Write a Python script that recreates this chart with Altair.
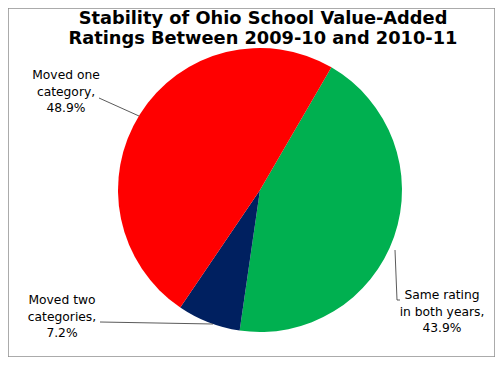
import altair as alt
import pandas as pd

# Data
categories = ["Same rating in both years", "Moved two categories", "Moved one category"]
values = [43.9, 7.2, 48.9]
colors = ["#00B050", "#002060", "#FF0000"]
label_texts = ["Same rating\nin both years,\n43.9%", "Moved two\ncategories,\n7.2%", "Moved one\ncategory,\n48.9%"]
title_lines = ["Stability of Ohio School Value-Added", "Ratings Between 2009-10 and 2010-11"]

W, H = 487, 349
CX, CY, R = 252, 182, 142
START = 0.527  # radians, clockwise from 12 o'clock

df = pd.DataFrame({"category": categories, "value": values, "order": list(range(len(categories)))})

pie = alt.Chart(df).mark_arc(radius=R).encode(
    theta=alt.Theta("value:Q", stack=True,
                    scale=alt.Scale(domain=[0, 100], range=[START, START + 6.283185307])),
    color=alt.Color("category:N", scale=alt.Scale(domain=categories, range=colors), legend=None),
    order=alt.Order("order:Q"),
    x=alt.value(CX),
    y=alt.value(CY),
)

# Labels (annotation placement)
lab_pos = [(434, 281), (54, 286), (58, 61)]
layers = [pie]
for (lx, ly), t in zip(lab_pos, label_texts):
    layers.append(
        alt.Chart(pd.DataFrame({"t": [t]})).mark_text(
            font="DejaVu Sans", fontSize=12.3, lineBreak="\n", lineHeight=16.5,
            align="center", baseline="top", color="#000000"
        ).encode(text="t:N", x=alt.value(lx), y=alt.value(ly))
    )

# Leader lines
leaders = [
    (91, 90, 131, 108),
    (92, 314, 205, 316),
    (387, 242, 389, 292),
    (389, 292, 392, 292),
]
for x1, y1, x2, y2 in leaders:
    layers.append(
        alt.Chart(pd.DataFrame({"a": [0]})).mark_rule(color="#303030", strokeWidth=0.8).encode(
            x=alt.value(x1), y=alt.value(y1), x2=alt.value(x2), y2=alt.value(y2)
        )
    )

# Title
title_df = pd.DataFrame({"t": ["\n".join(title_lines)]})
layers.append(
    alt.Chart(title_df).mark_text(
        font="DejaVu Sans", fontSize=17.8, fontWeight="bold", lineBreak="\n", lineHeight=20,
        align="center", baseline="top", color="#000000"
    ).encode(text="t:N", x=alt.value(255), y=alt.value(2))
)

chart = alt.layer(*layers).properties(
    width=W, height=H, autosize=alt.AutoSizeParams(type="none"), padding=0,
    background="white"
).configure_view(stroke="#909090", strokeWidth=1.5)

chart.save("out.html", embed_options={"renderer": "svg", "actions": False})
